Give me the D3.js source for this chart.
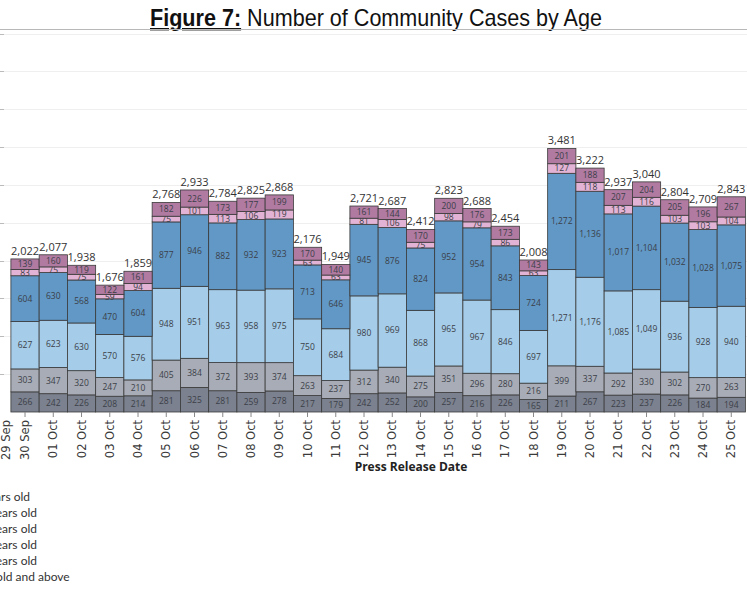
<!DOCTYPE html>
<html>
<head>
<meta charset="utf-8">
<script src="https://cdn.jsdelivr.net/npm/d3@7"></script>
<style>
  body { margin: 0; background: #fff; }
  svg { display: block; }
</style>
</head>
<body>
<div id="container"></div>
<script>
const dates = ['30 Sep','01 Oct','02 Oct','03 Oct','04 Oct','05 Oct','06 Oct','07 Oct','08 Oct','09 Oct',
    '10 Oct','11 Oct','12 Oct','13 Oct','14 Oct','15 Oct','16 Oct','17 Oct','18 Oct','19 Oct',
    '20 Oct','21 Oct','22 Oct','23 Oct','24 Oct','25 Oct'];

// stacked bottom -> top
const seriesNames = ['70 years old and above','60 - 69 years old','40 - 59 years old',
    '20 - 39 years old','12 - 19 years old','0 - 11 years old'];
const s1 = [266,242,226,208,214,281,325,281,259,278,217,179,242,252,200,257,216,226,165,211,267,223,237,226,184,194];
const s2 = [303,347,320,247,210,405,384,372,393,374,263,237,312,340,275,351,296,280,216,399,337,292,330,302,270,263];
const s3 = [627,623,630,570,576,948,951,963,958,975,750,684,980,969,868,965,967,846,697,1271,1176,1085,1049,936,928,940];
const s4 = [604,630,568,470,604,877,946,882,932,923,713,646,945,876,824,952,954,843,724,1272,1136,1017,1104,1032,1028,1075];
const s5 = [83,75,75,59,94,75,101,113,106,119,63,63,81,106,75,98,79,86,63,127,118,113,116,103,103,104];
const s6 = [139,160,119,122,161,182,226,173,177,199,170,140,161,144,170,200,176,173,143,201,188,207,204,205,196,267];
const seriesValues = [s1, s2, s3, s4, s5, s6];
const colors = ['#7b818e','#a8acb6','#a5cce8','#6198c6','#e2b3d4','#b07aa1'];

const legendLabels = ['0 - 11 years old','12 - 19 years old','20 - 39 years old',
    '40 - 59 years old','60 - 69 years old','70 years old and above'];
const leadTick = '29 Sep';
const yTicks = d3.range(0, 5001, 500);

const width = 747, height = 598;
const svg = d3.select('#container').append('svg')
    .attr('width', width).attr('height', height);

const rows = dates.map((d, i) => {
    const r = {date: d};
    seriesNames.forEach((k, j) => r[k] = seriesValues[j][i]);
    return r;
});
const stacked = d3.stack().keys(seriesNames)(rows);

const xScale = d3.scaleBand()
    .domain(dates)
    .range([10.9, 745.4])
    .padding(0);

const yScale = d3.scaleLinear()
    .domain([0, 5000])
    .range([412, 33.5]);

// title, squeezed to look like a narrow face
const title = svg.append('text')
    .attr('x', 376).attr('y', 26)
    .attr('text-anchor', 'middle')
    .attr('textLength', 452)
    .attr('lengthAdjust', 'spacingAndGlyphs')
    .style('font-family', '"Liberation Sans", Arial, sans-serif')
    .style('font-size', '24px')
    .style('fill', '#111');
title.append('tspan').style('font-weight', 'bold').style('text-decoration', 'underline').text('Figure 7:');
title.append('tspan').text(' Number of Community Cases by Age');

svg.append('line')
    .attr('x1', 0).attr('x2', width).attr('y1', 29.5).attr('y2', 29.5)
    .attr('stroke', '#b8b8b8').attr('stroke-width', 1);

// grid
svg.append('g').selectAll('line')
    .data(yTicks.filter(d => d > 0))
    .enter().append('line')
    .attr('x1', 0).attr('x2', width)
    .attr('y1', d => Math.round(yScale(d)) + 0.5)
    .attr('y2', d => Math.round(yScale(d)) + 0.5)
    .attr('stroke', '#efefef');

svg.append('g').selectAll('line')
    .data(yTicks.filter(d => d > 0))
    .enter().append('line')
    .attr('x1', 0).attr('x2', 4)
    .attr('y1', d => Math.round(yScale(d)) + 0.5)
    .attr('y2', d => Math.round(yScale(d)) + 0.5)
    .attr('stroke', '#bbb');

// bars
const layer = svg.append('g').selectAll('g')
    .data(stacked)
    .enter().append('g')
    .attr('fill', (d, i) => colors[i]);

layer.selectAll('rect')
    .data(d => d)
    .enter().append('rect')
    .attr('x', d => xScale(d.data.date))
    .attr('y', d => yScale(d[1]))
    .attr('width', xScale.bandwidth())
    .attr('height', d => yScale(d[0]) - yScale(d[1]))
    .attr('stroke', '#3a3a3a')
    .attr('stroke-width', 0.8);

// segment labels
layer.selectAll('text')
    .data(d => d)
    .enter().append('text')
    .attr('x', d => xScale(d.data.date) + xScale.bandwidth() / 2)
    .attr('y', d => (yScale(d[0]) + yScale(d[1])) / 2)
    .attr('dy', '0.35em')
    .attr('text-anchor', 'middle')
    .style('font-family', '"Open Sans", sans-serif')
    .style('font-size', '8.5px')
    .style('fill', '#3b3f48')
    .text(d => d3.format(',')(d[1] - d[0]));

// totals
svg.append('g').selectAll('text')
    .data(rows)
    .enter().append('text')
    .attr('x', d => xScale(d.date) + xScale.bandwidth() / 2)
    .attr('y', d => yScale(d3.sum(seriesNames, k => d[k])) - 4)
    .attr('text-anchor', 'middle')
    .style('font-family', '"Open Sans", sans-serif')
    .style('font-size', '11px')
    .style('fill', '#333')
    .text(d => d3.format(',')(d3.sum(seriesNames, k => d[k])));

// x axis
const xAxis = d3.axisBottom(xScale).tickSize(5).tickPadding(3);
const gx = svg.append('g')
    .attr('transform', `translate(0, ${yScale(0)})`)
    .call(xAxis);
gx.select('.domain').remove();
gx.selectAll('.tick line').attr('stroke', '#888');
gx.selectAll('.tick text')
    .attr('transform', 'rotate(-90)')
    .attr('x', -8).attr('y', 0).attr('dy', '0.35em')
    .attr('text-anchor', 'end')
    .style('font-family', '"DejaVu Sans", sans-serif')
    .style('font-size', '11.5px')
    .style('fill', '#3a3a3a');

svg.append('text')
    .attr('transform', `translate(${xScale(dates[0]) + xScale.bandwidth() / 2 - 19}, ${yScale(0) + 8}) rotate(-90)`)
    .attr('dy', '0.35em')
    .attr('text-anchor', 'end')
    .style('font-family', '"DejaVu Sans", sans-serif')
    .style('font-size', '11.5px')
    .style('fill', '#3a3a3a')
    .text(leadTick);

svg.append('text')
    .attr('x', 411).attr('y', 471)
    .attr('text-anchor', 'middle')
    .style('font-family', '"Open Sans", sans-serif')
    .style('font-weight', 'bold')
    .style('font-size', '12px')
    .style('fill', '#222')
    .text('Press Release Date');

// legend (swatches fall off the left edge)
const leg = svg.append('g');
const legText = leg.selectAll('text')
    .data(legendLabels)
    .enter().append('text')
    .attr('y', (d, i) => 501 + i * 16)
    .style('font-family', 'Lato, sans-serif')
    .style('font-size', '12px')
    .style('fill', '#333')
    .text(d => d);
const refLen = legText.filter((d, i) => i === 1).node().getComputedTextLength();
legText.attr('x', 37 - refLen);
</script>
</body>
</html>
